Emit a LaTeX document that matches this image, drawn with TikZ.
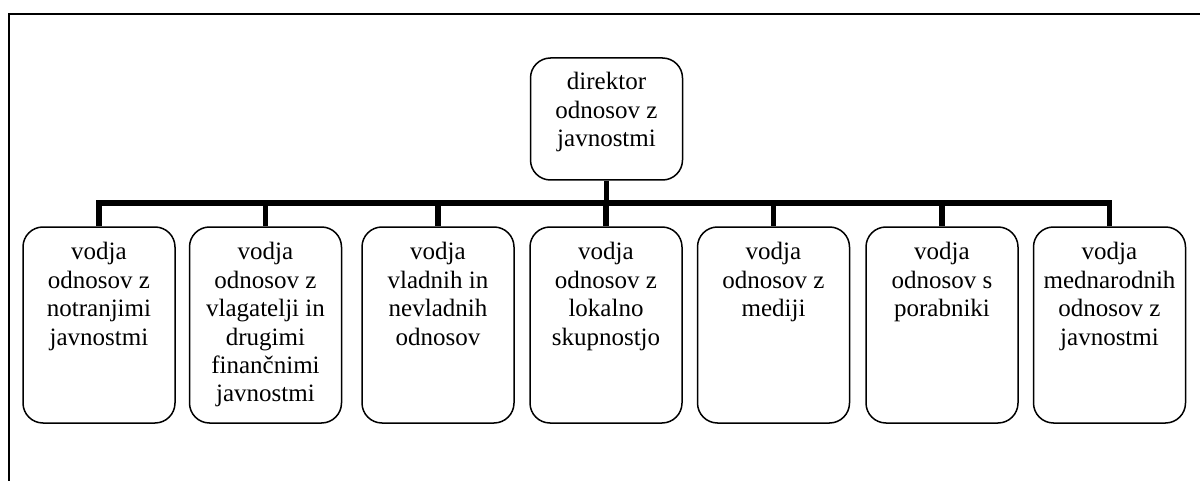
\documentclass[tikz,border=0pt]{standalone}
\usepackage{fontspec}
\setmainfont{Liberation Serif}
\begin{document}
\begin{tikzpicture}[x=0.5pt,y=-0.5pt,
  box/.style={draw,line width=0.75pt,rounded corners=10pt,minimum width=76pt,inner sep=0pt},
  cbox/.style={box,minimum height=98pt},
  dbox/.style={box,minimum height=61pt},
  lbl/.style={align=center,inner sep=0pt,anchor=north,font={\fontsize{12.5}{14.2}\selectfont}},
  bar/.style={line width=2.6pt,line join=miter},
  frame/.style={line width=1pt}]
\useasboundingbox (0,0) rectangle (1200,481);
\coordinate (fa) at (1200,14);
\coordinate (fb) at (9,14);
\coordinate (fc) at (9,481);
\draw[frame] (fa) -- (fb) -- (fc);
% director
\node[dbox] (dir) at (606.5,119) {};
\node[lbl] (tdir) at ([yshift=-7.5pt]dir.north) {direktor\\odnosov z\\javnostmi};
% children
\node[cbox] (b1) at (99,325) {};
\node[cbox] (b2) at (265.5,325) {};
\node[cbox] (b3) at (438,325) {};
\node[cbox] (b4) at (606,325) {};
\node[cbox] (b5) at (773.5,325) {};
\node[cbox] (b6) at (942,325) {};
\node[cbox] (b7) at (1109.5,325) {};
\node[lbl] (t1) at ([yshift=-8pt]b1.north) {vodja\\odnosov z\\notranjimi\\javnostmi};
\node[lbl] (t2) at ([yshift=-8pt]b2.north) {vodja\\odnosov z\\vlagatelji in\\drugimi\\finančnimi\\javnostmi};
\node[lbl] (t3) at ([yshift=-8pt]b3.north) {vodja\\vladnih in\\nevladnih\\odnosov};
\node[lbl] (t4) at ([yshift=-8pt]b4.north) {vodja\\odnosov z\\lokalno\\skupnostjo};
\node[lbl] (t5) at ([yshift=-8pt]b5.north) {vodja\\odnosov z\\mediji};
\node[lbl] (t6) at ([yshift=-8pt]b6.north) {vodja\\odnosov s\\porabniki};
\node[lbl] (t7) at ([yshift=-8pt]b7.north) {vodja\\mednarodnih\\odnosov z\\javnostmi};
% connectors
\coordinate (bar) at (606,203);
\draw[bar] (b1.north) -- (b1.north |- bar) -- (b7.north |- bar) -- (b7.north);
\draw[bar] (dir.south) -- (dir.south |- bar);
\foreach \b in {b2,b3,b4,b5,b6}
  \draw[bar] (\b.north |- bar) -- (\b.north);
\end{tikzpicture}
\end{document}
